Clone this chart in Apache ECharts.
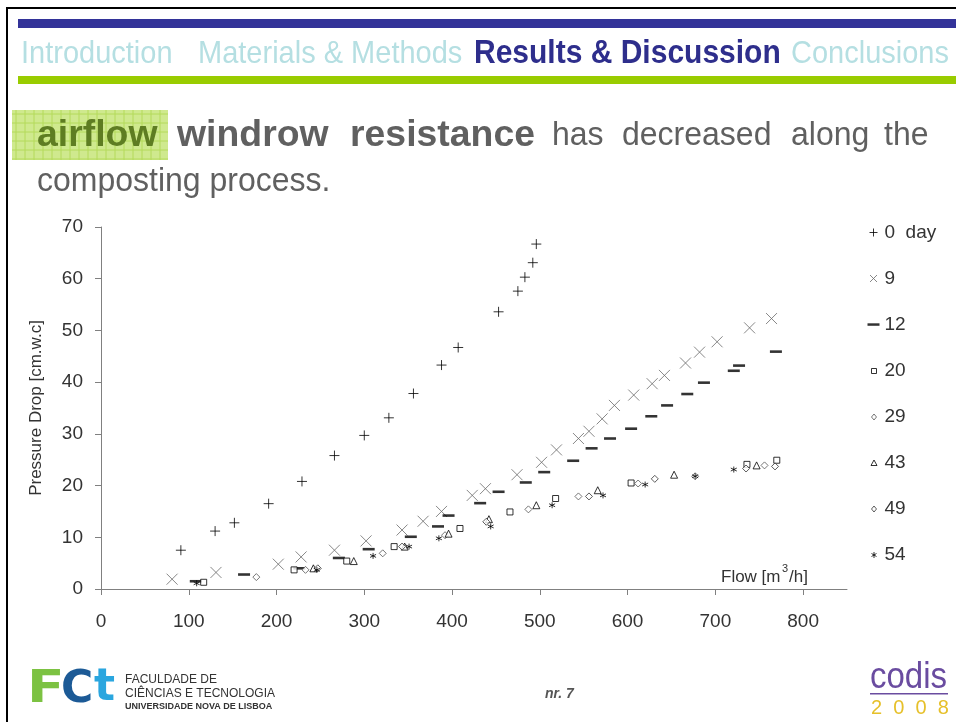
<!DOCTYPE html>
<html>
<head>
<meta charset="utf-8">
<title>airflow windrow resistance</title>
<script src="https://cdn.jsdelivr.net/npm/echarts@6/dist/echarts.min.js"></script>
<style>
html,body{margin:0;padding:0;background:#fff;}
#main{width:956px;height:722px;}
</style>
</head>
<body>
<div id="main"></div>
<script>
// dias de compostagem (legenda)
var dayNames = ['0  day', '9', '12', '20', '29', '43', '49', '54'];

// caudal [m3/h] e perda de carga [cm.w.c] por dia
var flow0 = [91, 130, 152, 191, 229, 266, 300, 328, 356, 388, 407, 453, 475, 483, 492, 496];
var drop0 = [7.5, 11.2, 12.8, 16.5, 20.8, 25.8, 29.7, 33.1, 37.8, 43.3, 46.7, 53.6, 57.6, 60.3, 63.1, 66.7];
var flow9 = [81, 131, 202, 228, 266, 302, 343, 367, 388, 423, 438, 474, 502, 519, 544, 556, 571, 585, 607, 628, 642, 666, 682, 702, 739, 764];
var drop9 = [1.9, 3.2, 4.8, 6.2, 7.5, 9.3, 11.4, 13.1, 15.0, 18.1, 19.4, 22.1, 24.5, 26.9, 29.1, 30.5, 32.9, 35.5, 37.5, 39.7, 41.3, 43.7, 45.8, 47.8, 50.5, 52.3];
var flow12 = [108, 163, 226, 271, 305, 353, 384, 396, 432, 453, 484, 505, 538, 559, 580, 604, 627, 645, 668, 687, 721, 727, 769];
var drop12 = [1.5, 2.8, 4.0, 6.0, 7.7, 10.1, 12.1, 14.2, 16.6, 18.8, 20.6, 22.6, 24.8, 27.2, 29.1, 31.0, 33.4, 35.5, 37.7, 39.9, 42.2, 43.2, 45.9];
var flow20 = [117, 220, 280, 334, 409, 466, 518, 604, 736, 770];
var drop20 = [1.3, 3.7, 5.4, 8.2, 11.7, 14.9, 17.5, 20.5, 24.1, 24.9];
var flow29 = [177, 233, 321, 392, 487, 544, 612, 677, 756];
var drop29 = [2.3, 3.7, 6.9, 10.4, 15.4, 17.9, 20.4, 21.8, 23.9];
var flow43 = [242, 288, 346, 396, 442, 496, 566, 653, 747];
var drop43 = [4.0, 5.4, 8.2, 10.7, 13.5, 16.2, 19.1, 22.1, 23.9];
var flow49 = [247, 343, 439, 556, 631, 735, 768];
var drop49 = [4.0, 8.2, 13.0, 17.9, 21.3, 23.3, 23.7];
var flow54 = [109, 246, 310, 351, 385, 444, 514, 572, 620, 677, 721];
var drop54 = [1.1, 3.7, 6.4, 8.2, 9.8, 12.1, 16.2, 18.1, 20.2, 21.8, 23.1];

var flowTicks = [0, 100, 200, 300, 400, 500, 600, 700, 800];

var FONT = 'Liberation Sans, Arial, sans-serif';

function pairs(xs, ys) {
	return xs.map(function (x, i) { return [x, ys[i]]; });
}

// simbolos
var plusPath = 'path://M0,5 L10,5 M5,0 L5,10';
var crossPath = 'path://M0,0 L10,10 M10,0 L0,10';
var dashPath = 'path://M0,0 L10,0 L10,2.4 L0,2.4 Z';
var starPath = 'path://M5,0 L5,10 M0.7,2.5 L9.3,7.5 M0.7,7.5 L9.3,2.5';

// icones da legenda (com margem para ficarem pequenos)
var legendIcons = [
	'path://M0,0 M12,12 M2,6 L10,6 M6,2 L6,10',
	'path://M0,0 M12,12 M2.5,2.5 L9.5,9.5 M9.5,2.5 L2.5,9.5',
	'path://M0,0 M12,12 M0,4.8 L12,4.8 L12,7.3 L0,7.3 Z',
	'path://M0,0 M12,12 M4,4 L9,4 L9,9 L4,9 Z',
	'path://M0,0 M12,12 M6.5,3.5 L9,6.5 L6.5,9.5 L4,6.5 Z',
	'path://M0,0 M12,12 M6.5,3.5 L9.5,9 L3.5,9 Z',
	'path://M0,0 M12,12 M6.5,3.5 L9,6.5 L6.5,9.5 L4,6.5 Z',
	'path://M0,0 M12,12 M6.5,3.5 L6.5,9.5 M4,5 L9,8 M4,8 L9,5'
];

var series = [
	{ data: pairs(flow0, drop0), symbol: plusPath, symbolSize: 10,
	  itemStyle: { color: 'transparent', borderColor: '#000', borderWidth: 1 } },
	{ data: pairs(flow9, drop9), symbol: crossPath, symbolSize: 11,
	  itemStyle: { color: 'transparent', borderColor: '#6a6a6a', borderWidth: 1 } },
	{ data: pairs(flow12, drop12), symbol: dashPath, symbolSize: [12, 2.6],
	  itemStyle: { color: '#000' } },
	{ data: pairs(flow20, drop20), symbol: 'rect', symbolSize: 6,
	  itemStyle: { color: '#fff', borderColor: '#000', borderWidth: 1 } },
	{ data: pairs(flow29, drop29), symbol: 'diamond', symbolSize: 7,
	  itemStyle: { color: '#fff', borderColor: '#555', borderWidth: 1 } },
	{ data: pairs(flow43, drop43), symbol: 'triangle', symbolSize: 7,
	  itemStyle: { color: '#fff', borderColor: '#000', borderWidth: 1 } },
	{ data: pairs(flow49, drop49), symbol: 'diamond', symbolSize: 7,
	  itemStyle: { color: '#fff', borderColor: '#333', borderWidth: 1 } },
	{ data: pairs(flow54, drop54), symbol: starPath, symbolSize: 6,
	  itemStyle: { color: 'transparent', borderColor: '#000', borderWidth: 1 } }
];
series.forEach(function (s, i) {
	s.name = dayNames[i];
	s.type = 'scatter';
	s.silent = true;
});

// cabecalho / rodape do slide
var graphics = [
	{ type: 'rect', shape: { x: 7, y: 8, width: 960, height: 720 }, style: { fill: 'none', stroke: '#000', lineWidth: 2 } },
	{ type: 'rect', shape: { x: 18, y: 19, width: 940, height: 9 }, style: { fill: '#333399' } },
	{ type: 'rect', shape: { x: 18, y: 76, width: 940, height: 8 }, style: { fill: '#99cc00' } },
	{ type: 'text', x: 21, y: 54, scaleY: 1.08, style: { text: 'Introduction', font: '29px ' + FONT, fill: '#b5dfe2', textVerticalAlign: 'middle' } },
	{ type: 'text', x: 198, y: 54, scaleY: 1.08, style: { text: 'Materials & Methods', font: '29px ' + FONT, fill: '#b5dfe2', textVerticalAlign: 'middle' } },
	{ type: 'text', x: 474, y: 54, scaleY: 1.08, style: { text: 'Results & Discussion', font: 'bold 30px ' + FONT, fill: '#2e2e8c', textVerticalAlign: 'middle' } },
	{ type: 'text', x: 791, y: 54, scaleY: 1.08, style: { text: 'Conclusions', font: '29px ' + FONT, fill: '#b5dfe2', textVerticalAlign: 'middle' } },
	{ type: 'rect', shape: { x: 12, y: 110, width: 156, height: 50 }, style: { fill: '#cfe98e' } }
];
// quadricula verde por tras de "airflow"
for (var gx = 16; gx < 168; gx += 9) {
	graphics.push({ type: 'line', shape: { x1: gx, y1: 110, x2: gx, y2: 160 }, style: { stroke: '#b4da5a', lineWidth: 1 } });
}
for (var gy = 114; gy < 160; gy += 9) {
	graphics.push({ type: 'line', shape: { x1: 12, y1: gy, x2: 168, y2: gy }, style: { stroke: '#b4da5a', lineWidth: 1 } });
}
var titleWords = [
	['airflow', 37, 'bold', '#5e7d22'],
	['windrow', 177, 'bold', '#606060'],
	['resistance', 350, 'bold', '#606060'],
	['has', 552, 'normal', '#606060'],
	['decreased', 622, 'normal', '#606060'],
	['along', 791, 'normal', '#606060'],
	['the', 884, 'normal', '#606060']
];
titleWords.forEach(function (w) {
	var bold = w[2] == 'bold';
	graphics.push({ type: 'text', x: w[1], y: 136, scaleX: bold ? 1.1 : 1, scaleY: 1.06,
		style: { text: w[0], font: w[2] + ' ' + (bold ? 34 : 32) + 'px ' + FONT, fill: w[3], textVerticalAlign: 'middle' } });
});
graphics.push(
	{ type: 'text', x: 37, y: 182, scaleY: 1.06, style: { text: 'composting process.', font: '32px ' + FONT, fill: '#606060', textVerticalAlign: 'middle' } },
	// nome do eixo x dentro do grafico
	{ type: 'text', x: 721, y: 577, style: { text: 'Flow [m', font: '17px ' + FONT, fill: '#333', textVerticalAlign: 'middle' } },
	{ type: 'text', x: 782, y: 569, style: { text: '3', font: '11px ' + FONT, fill: '#333', textVerticalAlign: 'middle' } },
	{ type: 'text', x: 789, y: 577, style: { text: '/h]', font: '17px ' + FONT, fill: '#333', textVerticalAlign: 'middle' } },
	// logotipo FCT
	{ type: 'text', x: 27, y: 691, scaleX: 1.25, style: { text: 'F', font: 'bold 44px DejaVu Sans', fill: '#7cc242', textVerticalAlign: 'middle' } },
	{ type: 'text', x: 61, y: 691, style: { text: 'C', font: 'bold 44px DejaVu Sans', fill: '#1c5a96', textVerticalAlign: 'middle' } },
	{ type: 'text', x: 94, y: 689, style: { text: 't', font: 'bold 44px DejaVu Sans', fill: '#2aa6df', textVerticalAlign: 'middle' } },
	{ type: 'text', x: 125, y: 680, style: { text: 'FACULDADE DE', font: '12px ' + FONT, fill: '#333', textVerticalAlign: 'middle' } },
	{ type: 'text', x: 125, y: 694, style: { text: 'CIÊNCIAS E TECNOLOGIA', font: '12px ' + FONT, fill: '#333', textVerticalAlign: 'middle' } },
	{ type: 'text', x: 125, y: 707, style: { text: 'UNIVERSIDADE NOVA DE LISBOA', font: 'bold 9px ' + FONT, fill: '#333', textVerticalAlign: 'middle' } },
	{ type: 'text', x: 545, y: 694, style: { text: 'nr. 7', font: 'italic bold 14px ' + FONT, fill: '#555', textVerticalAlign: 'middle' } },
	// logotipo codis 2008
	{ type: 'text', x: 870, y: 678, scaleY: 1.1, style: { text: 'codis', font: '33px ' + FONT, fill: '#6a4ca0', textVerticalAlign: 'middle' } },
	{ type: 'rect', shape: { x: 870, y: 693, width: 78, height: 1.5 }, style: { fill: '#6a4ca0' } },
	{ type: 'text', x: 871, y: 708, style: { text: '2  0  0  8', font: '20px ' + FONT, fill: '#e6c02a', textVerticalAlign: 'middle' } }
);

var myChart = echarts.init(document.getElementById('main'));
var option = {
	animation: false,
	backgroundColor: '#fff',
	textStyle: { fontFamily: FONT },
	grid: { left: 101, right: 109, top: 227, bottom: 133, containLabel: false },
	legend: {
		orient: 'vertical',
		left: 862,
		top: 218,
		itemGap: 27,
		itemWidth: 12,
		itemHeight: 12,
		selectedMode: false,
		itemStyle: { borderWidth: 1 },
		textStyle: { fontSize: 19, color: '#333', fontFamily: FONT },
		data: dayNames.map(function (n, i) { return { name: n, icon: legendIcons[i] }; })
	},
	xAxis: {
		type: 'value',
		min: 0,
		max: 850,
		interval: 100,
		splitLine: { show: false },
		axisLine: { lineStyle: { color: '#808080' } },
		axisTick: { show: true, length: 6, customValues: flowTicks, lineStyle: { color: '#808080' } },
		axisLabel: { customValues: flowTicks, fontSize: 19, color: '#333', margin: 23, fontFamily: FONT }
	},
	yAxis: {
		type: 'value',
		min: 0,
		max: 70,
		interval: 10,
		name: 'Pressure Drop [cm.w.c]',
		nameLocation: 'middle',
		nameGap: 56,
		nameTextStyle: { fontSize: 17, color: '#333', fontFamily: FONT },
		splitLine: { show: false },
		axisLine: { show: true, lineStyle: { color: '#808080' } },
		axisTick: { show: true, length: 6, lineStyle: { color: '#808080' } },
		axisLabel: { fontSize: 19, color: '#333', margin: 18, fontFamily: FONT }
	},
	graphic: graphics,
	series: series
};
myChart.setOption(option);
</script>
</body>
</html>
